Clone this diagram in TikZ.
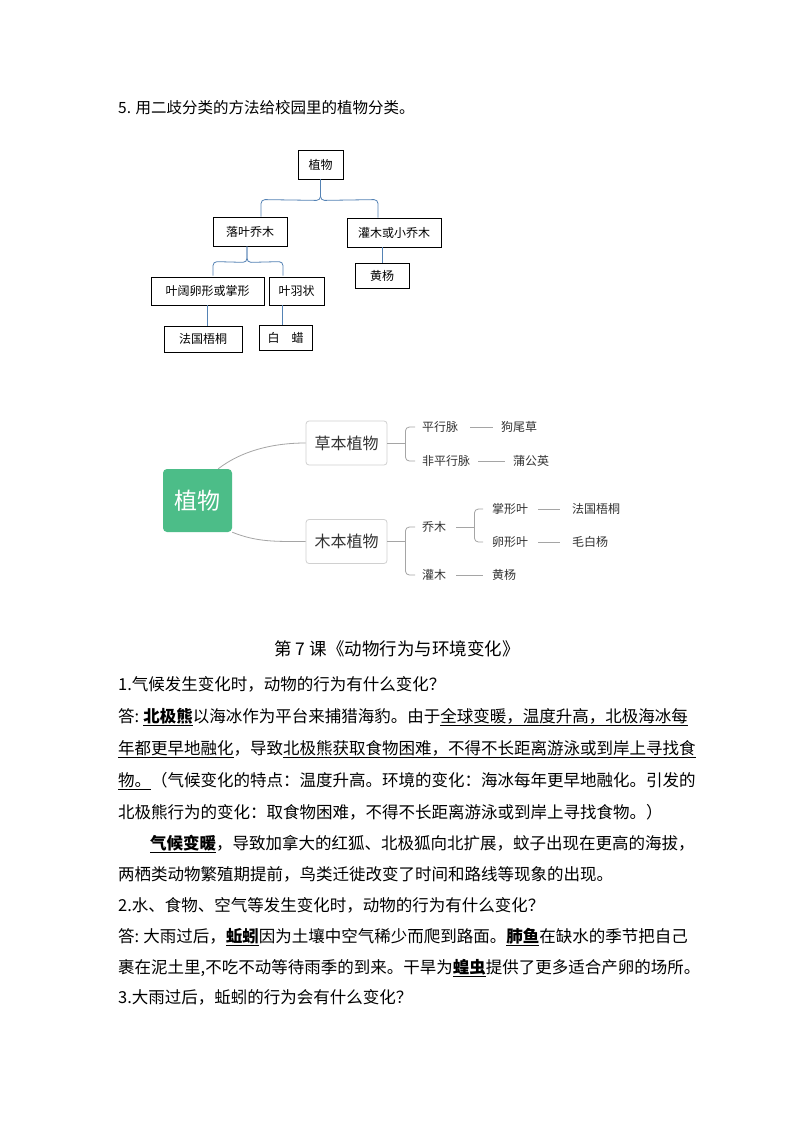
\documentclass[tikz,border=0pt]{standalone}
\usepackage{fontspec}
\setmainfont{Noto Sans CJK SC}
\usetikzlibrary{calc}
\XeTeXlinebreaklocale "zh"
\XeTeXlinebreakskip=0pt plus 2pt minus 0.6pt
\definecolor{bluel}{RGB}{84,130,180}
\definecolor{mmgreen}{RGB}{76,189,136}
\definecolor{mmline}{RGB}{165,165,165}
\definecolor{mmtext}{RGB}{51,51,51}
\definecolor{mmborder}{RGB}{208,208,208}
\begin{document}
\begin{tikzpicture}[x=1pt,y=-1pt,
  tbox/.style={draw=black,line width=0.9pt,font=\fontsize{12}{14}\selectfont,inner sep=0pt,minimum height=29pt},
  tlink/.style={draw=bluel,line width=0.8pt},
  mmbox/.style={draw=mmborder,line width=0.8pt,rounded corners=3pt,fill=white,text=mmtext,font=\fontsize{16}{18}\selectfont,minimum width=81pt,minimum height=44pt,inner sep=0pt},
  mmlink/.style={draw=mmline,line width=0.8pt},
  leaf/.style={text=mmtext,font=\fontsize{12}{14}\selectfont,inner sep=0pt,anchor=west},
  body/.style={anchor=west,inner sep=0pt,font=\fontsize{16.5}{20}\selectfont},
  ]
\path[fill=white] (0,0) rectangle (794,1123);
\useasboundingbox (0,0) rectangle (794,1123);

% heading
\node[anchor=west,inner sep=0pt,font=\fontsize{15.5}{18}\selectfont] (h5) at (118,108) {5. 用二歧分类的方法给校园里的植物分类。};

% ---- dichotomous tree ----
\node[tbox,minimum width=45pt] (zw) at (320.5,164.5) {植物};
\node[tbox,minimum width=74pt] (ly) at (250,231.5) {落叶乔木};
\node[tbox,minimum width=94pt] (gm) at (394,232.5) {灌木或小乔木};
\node[tbox,minimum width=113pt,minimum height=28pt] (yk) at (207.5,291) {叶阔卵形或掌形};
\node[tbox,minimum width=55pt,minimum height=28pt] (yu) at (296.5,291) {叶羽状};
\node[tbox,minimum width=78pt,minimum height=26pt] (fg) at (203,339) {法国梧桐};
\node[tbox,minimum width=53pt,minimum height=25pt] (bl) at (285.5,337.5) {白\hspace{1em}蜡};
\node[tbox,minimum width=54pt,minimum height=25pt] (hy) at (382,275.5) {黄杨};

\coordinate (b1) at ($(zw.south)+(0,21)$);
\draw[tlink,rounded corners=4pt] (zw.south) -- (b1) -- ($(ly.north)+(11,-17)$) -- ($(ly.north)+(11,0)$);
\draw[tlink,rounded corners=4pt] (zw.south) -- (b1) -- ($(gm.north)+(-16,-18)$) -- ($(gm.north)+(-16,0)$);
\coordinate (b2t) at ($(ly.south)+(-3,0)$);
\coordinate (b2) at ($(ly.south)+(-3,16)$);
\draw[tlink,rounded corners=4pt] (b2t) -- (b2) -- ($(yk.north)+(5.5,-15)$) -- ($(yk.north)+(5.5,-1)$);
\draw[tlink,rounded corners=4pt] (b2t) -- (b2) -- ($(yu.north)+(-13.5,-15)$) -- ($(yu.north)+(-13.5,-1)$);
\draw[tlink] (yk.south) -- (yk.south |- fg.north);
\coordinate (blt) at ($(bl.north)+(-3.5,0)$);
\draw[tlink] (blt) -- (blt |- yu.south);
\draw[tlink] (hy.north) -- (hy.north |- gm.south);

% ---- mind map ----
\node[fill=mmgreen,rounded corners=4pt,text=white,font=\fontsize{23}{26}\selectfont,minimum width=69pt,minimum height=63pt,inner sep=0pt] (mz) at (197.5,500.5) {植物};
\node[mmbox] (cb) at (346.5,443) {草本植物};
\node[mmbox] (mb) at (346.5,541.5) {木本植物};
\draw[mmlink] ($(mz.north east)+(-14,0)$) .. controls +(22,-17) and +(-35,0) .. (cb.west);
\draw[mmlink] (mz.south east) .. controls +(25,10) and +(-30,0) .. (mb.west);

\node[leaf] (p1) at (422,427) {平行脉};
\node[leaf] (g1) at (501,427) {狗尾草};
\node[leaf] (n1) at (422,461) {非平行脉};
\node[leaf] (pg) at (513,461) {蒲公英};
\node[leaf] (qm) at (422,527) {乔木};
\node[leaf] (zx) at (492,509) {掌形叶};
\node[leaf] (fg2) at (572,509) {法国梧桐};
\node[leaf] (lx) at (492,542) {卵形叶};
\node[leaf] (mby) at (572,542) {毛白杨};
\node[leaf] (gmu) at (422,575) {灌木};
\node[leaf] (hy2) at (492,575) {黄杨};

\coordinate (k1) at ($(cb.east)+(18,0)$);
\draw[mmlink] (cb.east) -- (k1);
\draw[mmlink,rounded corners=4pt] ($(p1.west)+(-7,0)$) -- (p1.west -| k1) -- (n1.west -| k1) -- ($(n1.west)+(-7,0)$);
\coordinate (k2) at ($(mb.east)+(18,0)$);
\draw[mmlink] (mb.east) -- (k2);
\draw[mmlink,rounded corners=4pt] ($(qm.west)+(-7,0)$) -- (qm.west -| k2) -- (gmu.west -| k2) -- ($(gmu.west)+(-7,0)$);
\coordinate (k3) at ($(qm.east)+(28,0)$);
\draw[mmlink] ($(qm.east)+(10,0)$) -- (k3);
\draw[mmlink,rounded corners=4pt] ($(zx.west)+(-9,0)$) -- (zx.west -| k3) -- (lx.west -| k3) -- ($(lx.west)+(-9,0)$);

\draw[mmlink] ($(p1.east)+(12,0)$) -- ($(g1.west)+(-8,0)$);
\draw[mmlink] ($(n1.east)+(8,0)$) -- ($(pg.west)+(-8,0)$);
\draw[mmlink] ($(zx.east)+(10,0)$) -- ($(fg2.west)+(-12,0)$);
\draw[mmlink] ($(lx.east)+(10,0)$) -- ($(mby.west)+(-12,0)$);
\draw[mmlink] ($(gmu.east)+(10,0)$) -- ($(hy2.west)+(-9,0)$);

% ---- lesson 7 text ----
\node[inner sep=0pt,font=\fontsize{17.5}{20}\selectfont] (t7) at (397,649) {第 7 课《动物行为与环境变化》};
\node[body] (l1) at (118,684) {1.气候发生变化时，动物的行为有什么变化？};
\node[body] (l2) at (118,717) {\makebox[582pt][s]{答:\hspace{4pt}\textbf{\underline{北极熊}}以海冰作为平台来捕猎海豹。由于\underline{全球变暖，温度升高，北极海冰每}}};
\node[body] (l3) at (118,749) {\makebox[582pt][s]{\underline{年都更早地融化}，导致\underline{北极熊获取食物困难，不得不长距离游泳或到岸上寻找食}}};
\node[body] (l4) at (118,781) {\makebox[582pt][s]{\underline{物。}（气候变化的特点：温度升高。环境的变化：海冰每年更早地融化。引发的}};
\node[body] (l5) at (118,812) {北极熊行为的变化：取食物困难，不得不长距离游泳或到岸上寻找食物。）};
\node[body] (l6) at (150,844) {\makebox[550pt][s]{\textbf{\underline{气候变暖}}，导致加拿大的红狐、北极狐向北扩展，蚊子出现在更高的海拔，}};
\node[body] (l7) at (118,874) {两栖类动物繁殖期提前，鸟类迁徙改变了时间和路线等现象的出现。};
\node[body] (l8) at (118,905) {2.水、食物、空气等发生变化时，动物的行为有什么变化？};
\node[body] (l9) at (118,937) {\makebox[582pt][s]{答:\hspace{4pt}大雨过后，\textbf{\underline{蚯蚓}}因为土壤中空气稀少而爬到路面。\textbf{\underline{肺鱼}}在缺水的季节把自己}};
\node[body] (l10) at (118,968) {\makebox[582pt][s]{裹在泥土里,不吃不动等待雨季的到来。干旱为\textbf{\underline{蝗虫}}提供了更多适合产卵的场所。}};
\node[body] (l11) at (118,997) {3.大雨过后，蚯蚓的行为会有什么变化？};
\end{tikzpicture}
\end{document}
